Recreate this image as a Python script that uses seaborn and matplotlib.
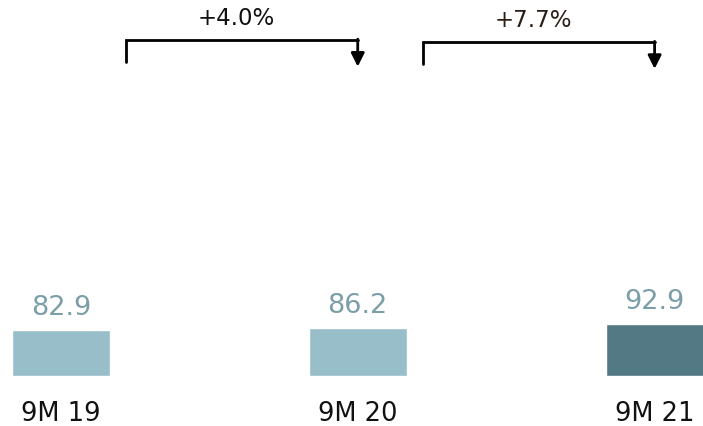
import matplotlib
matplotlib.use("Agg")
import matplotlib.pyplot as plt
import seaborn as sns
import pandas as pd

# donnees
periodes = ["9M 19", "9M 20", "9M 21"]
valeurs = [82.9, 86.2, 92.9]
couleurs = ["#98bec9", "#98bec9", "#537984"]
variations = ["+4.0%", "+7.7%"]
couleurs_var = ["#111111", "#2a1d17"]

sns.set_theme(style="white")
plt.rcParams["font.family"] = ["DejaVu Sans"]

df = pd.DataFrame({"periode": periodes, "valeur": valeurs})

fig = plt.figure(figsize=(7.03, 4.26), dpi=100)
ax = fig.add_axes([0, 50 / 426, 1, 376 / 426])

sns.barplot(data=df, x="periode", y="valeur", hue="periode", palette=couleurs,
            width=0.33, legend=False, ax=ax, saturation=1)

ax.set_xlim(-0.205, 2.163)
ax.set_ylim(0, 677)
ax.set_xlabel("")
ax.set_ylabel("")
ax.set_yticks([])
sns.despine(ax=ax, left=True, bottom=True)
ax.tick_params(axis="x", length=0, pad=18, labelsize=18.5, labelcolor="#111111")

# etiquettes des valeurs
for i, v in enumerate(valeurs):
    ax.annotate(f"{v}", (i, v), xytext=(0, 11), textcoords="offset points",
                ha="center", va="baseline", fontsize=19.5, color="#7b9ea9")

# fleches de variation
for i, txt in enumerate(variations):
    x0, x1 = i + 0.22, i + 1.0
    y_top = 605 - 4 * i
    ax.plot([x0, x0, x1], [y_top - 40, y_top, y_top], color="black", lw=2,
            solid_joinstyle="miter")
    ax.annotate("", xy=(x1, y_top - 48), xytext=(x1, y_top + 1.5),
                arrowprops=dict(arrowstyle="-|>", color="black", lw=2,
                                mutation_scale=20, shrinkA=0, shrinkB=0))
    ax.text((x0 + x1) / 2 - 0.02, y_top + 39, txt, ha="center", va="center",
            fontsize=16.5, color=couleurs_var[i])

fig.savefig("out.png", dpi=100)
